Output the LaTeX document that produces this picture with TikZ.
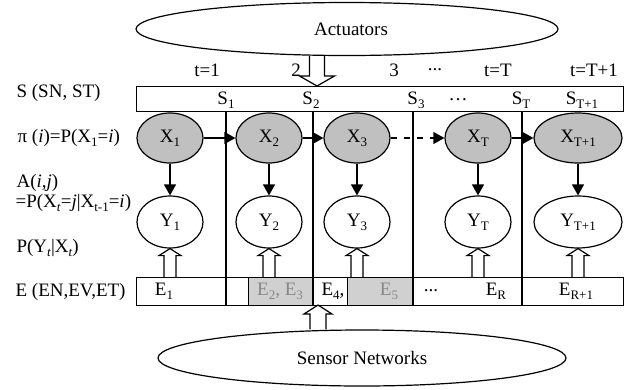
\documentclass[tikz,border=0pt]{standalone}
\usepackage{fontspec}
\setmainfont{Liberation Serif}
\usetikzlibrary{shapes.geometric,arrows.meta,calc}
\definecolor{xgray}{RGB}{192,192,192}
\definecolor{egray}{RGB}{208,208,208}
\definecolor{tgray}{RGB}{135,135,135}
\newcommand\ssub[1]{\raisebox{-0.2em}{\fontsize{13}{13}\selectfont #1}}
\tikzset{
  lbl/.style={inner sep=0pt},
  xnode/.style={ellipse, draw, fill=xgray, minimum width=66, minimum height=50, inner sep=0pt},
  ynode/.style={ellipse, draw, fill=white, minimum width=66, minimum height=52, inner sep=0pt},
  arr/.style={-{Triangle[length=11pt,width=12pt]}},
  hup/.style n args={3}{to path={let \p1=(\tikztostart), \p2=(\tikztotarget) in
     (\x1-#1pt,\y1) -- (\x1-#1pt,\y2-#3pt) -- (\x1-#2pt,\y2-#3pt) -- (\x1,\y2)
     -- (\x1+#2pt,\y2-#3pt) -- (\x1+#1pt,\y2-#3pt) -- (\x1+#1pt,\y1)}},
  hdown/.style n args={3}{to path={let \p1=(\tikztostart), \p2=(\tikztotarget) in
     (\x1-#1pt,\y1) -- (\x1-#1pt,\y2+#3pt) -- (\x1-#2pt,\y2+#3pt) -- (\x1,\y2)
     -- (\x1+#2pt,\y2+#3pt) -- (\x1+#1pt,\y2+#3pt) -- (\x1+#1pt,\y1)}}
}
\begin{document}
\begin{tikzpicture}[x=1pt,y=-1pt,line width=1.2pt,font=\fontsize{19}{21}\selectfont]
\useasboundingbox (0,0) rectangle (637,389);
% ellipses
\node[draw, ellipse, minimum width=422, minimum height=53, inner sep=0pt] (act) at (347,29) {\hspace*{8pt}Actuators};
\node[draw, ellipse, minimum width=408, minimum height=56, inner sep=0pt] (sens) at (362,358) {Sensor Networks};
% left labels
\node[lbl, anchor=west] (lS) at (16,93) {S (SN, ST)};
\node[lbl, anchor=west] (lpi) at (17,138) {π (\textit{i})=P(X\ssub{1}=\textit{i})};
\node[lbl, anchor=west] (lA1) at (16,183) {A(\textit{i},\textit{j})};
\node[lbl, anchor=west] (lA2) at (15,203) {=P(X\ssub{\textit{t}}=\textit{j}|X\ssub{t-1}=\textit{i})};
\node[lbl, anchor=west] (lP) at (16,248) {P(Y\ssub{\textit{t}}|X\ssub{\textit{t}})};
\node[lbl, anchor=west] (lE) at (15,292) {E (EN,EV,ET)};
% time labels
\node[lbl] (tl1) at (207,70) {t=1};
\node[lbl] (tl2) at (296,70) {2};
\node[lbl] (tl3) at (394,70) {3};
\node[lbl] (tldots) at (435,70) {...};
\node[lbl] (tlT) at (498,70) {t=T};
\node[lbl] (tlT1) at (594,70) {t=T+1};
% S box
\node[draw, anchor=north west, minimum width=487, minimum height=25, inner sep=0pt] (sbox) at (136,86) {};
\node[lbl] (s1) at (226,100) {S\ssub{1}};
\node[lbl] (s2) at (311,100) {S\ssub{2}};
\node[lbl] (s3) at (416,100) {S\ssub{3}};
\node[lbl] (sdots) at (458,100) {…};
\node[lbl] (sT) at (521,100) {S\ssub{T}};
\node[lbl] (sT1) at (582,100) {S\ssub{T+1}};
% E box
\node[draw, fill=egray, anchor=north west, minimum width=65, minimum height=28, inner sep=0pt] (g1) at (248,277) {};
\node[draw, fill=egray, anchor=north west, minimum width=66, minimum height=28, inner sep=0pt] (g2) at (347,277) {};
\node[draw, anchor=north west, minimum width=487, minimum height=28, inner sep=0pt] (ebox) at (136,277) {};
\node[lbl] (e1) at (164,291) {E\ssub{1}};
\node[lbl, text=tgray] (e23) at (280,291) {E\ssub{2}, E\ssub{3}};
\node[lbl] (e4) at (333,291) {E\ssub{4},};
\node[lbl, text=tgray] (e5) at (389,291) {E\ssub{5}};
\node[lbl] (edots) at (431,291) {...};
\node[lbl] (eR) at (496,291) {E\ssub{R}};
\node[lbl] (eR1) at (576,291) {E\ssub{R+1}};
% vertical separators
\foreach \xx in {226,313,413,522} \draw (\xx,111) -- (\xx,305);
% hidden-state nodes
\node[xnode] (x1) at (170,138) {X\ssub{1}};
\node[xnode] (x2) at (269,138) {X\ssub{2}};
\node[xnode] (x3) at (357,138) {X\ssub{3}};
\node[xnode] (xT) at (478,138) {X\ssub{T}};
\node[xnode, minimum width=88] (xT1) at (578,138) {X\ssub{T+1}};
% observation nodes
\node[ynode] (y1) at (170,222) {Y\ssub{1}};
\node[ynode] (y2) at (269,222) {Y\ssub{2}};
\node[ynode] (y3) at (357,222) {Y\ssub{3}};
\node[ynode] (yT) at (478,222) {Y\ssub{T}};
\node[ynode, minimum width=88] (yT1) at (578,222) {Y\ssub{T+1}};
% transitions
\draw[arr] (x1) -- (x2);
\draw[arr] (x2) -- (x3);
\draw[arr, dash pattern=on 6pt off 7pt] (x3) -- (xT);
\draw[arr] (xT) -- (xT1);
% emissions
\foreach \k in {1,2,3,T,T1} \draw[arr] (x\k) -- (y\k);
% hollow arrows from E box
\foreach \k in {1,2,3,T,T1} {
  \coordinate (hb\k) at (y\k.south |- ebox.north);
  \coordinate (ht\k) at (y\k.south);
}
\foreach \k in {1,2,3,T,T1} {
  \draw[hup={6}{11}{7}] (hb\k) to (ht\k);
}
% actuators and sensors
\coordinate (ain) at (317,86);
\coordinate (aout) at (ain |- act.south);
\coordinate (sin) at (318,305);
\coordinate (sout) at (sin |- sens.north);
\draw[hdown={7.5}{17.5}{10}] (aout) to (ain);
\draw[hup={8}{14}{9}] (sout) to (sin);
\end{tikzpicture}
\end{document}
